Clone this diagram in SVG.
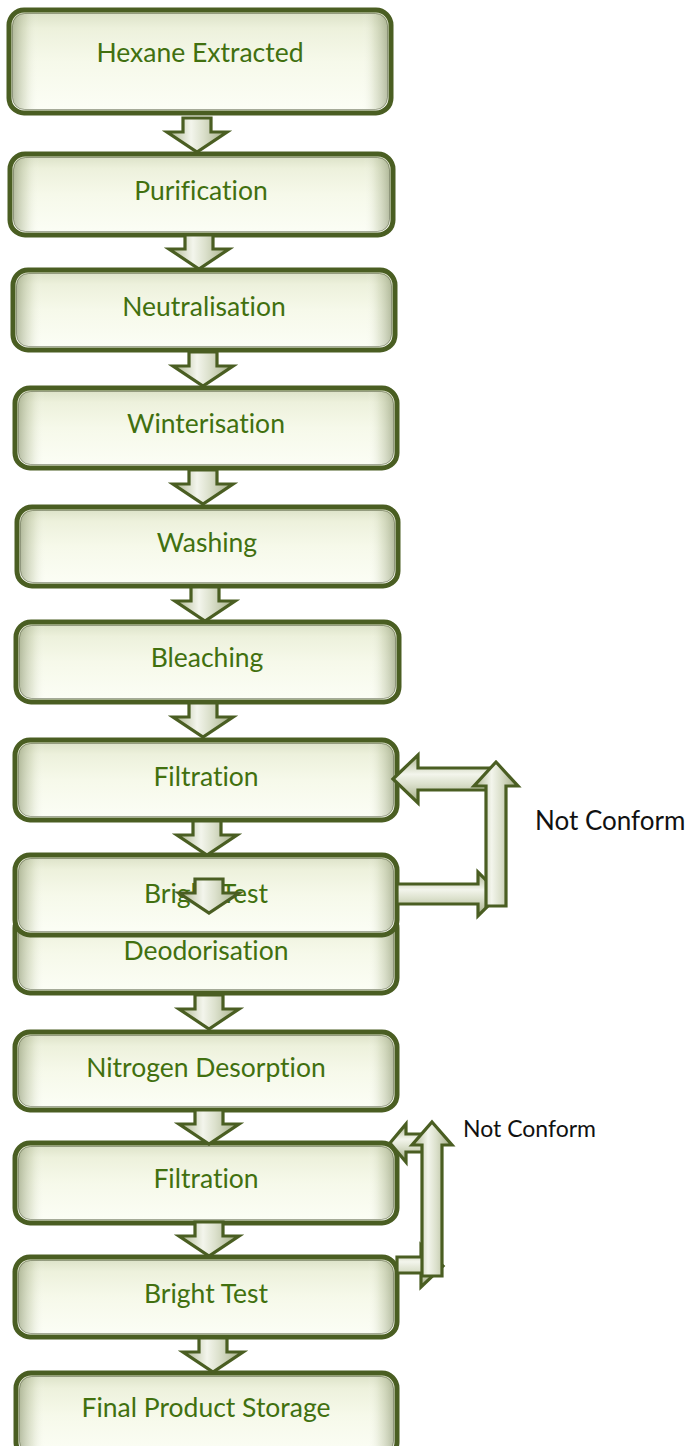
<svg xmlns="http://www.w3.org/2000/svg" width="693" height="1446" viewBox="0 0 693 1446">
<defs>
<linearGradient id="boxV" x1="0" y1="0" x2="0" y2="1">
<stop offset="0" stop-color="#d9dfc4"/>
<stop offset="0.18" stop-color="#edf1dc"/>
<stop offset="0.5" stop-color="#f6f9ea"/>
<stop offset="1" stop-color="#fcfef6"/>
</linearGradient>
<linearGradient id="boxH" x1="0" y1="0" x2="1" y2="0">
<stop offset="0" stop-color="#7f8a62" stop-opacity="0.55"/>
<stop offset="0.035" stop-color="#a9b38c" stop-opacity="0.25"/>
<stop offset="0.07" stop-color="#ffffff" stop-opacity="0"/>
<stop offset="0.93" stop-color="#ffffff" stop-opacity="0"/>
<stop offset="0.965" stop-color="#a9b38c" stop-opacity="0.25"/>
<stop offset="1" stop-color="#7f8a62" stop-opacity="0.55"/>
</linearGradient>
<linearGradient id="arrH" x1="0" y1="0" x2="1" y2="0">
<stop offset="0" stop-color="#aab38c"/>
<stop offset="0.4" stop-color="#f3f5ec"/>
<stop offset="0.6" stop-color="#dce1cd"/>
<stop offset="1" stop-color="#a2ab84"/>
</linearGradient>
<linearGradient id="arrV" x1="0" y1="0" x2="0" y2="1">
<stop offset="0" stop-color="#aab38c"/>
<stop offset="0.4" stop-color="#f3f5ec"/>
<stop offset="0.6" stop-color="#dce1cd"/>
<stop offset="1" stop-color="#a2ab84"/>
</linearGradient>
<path id="dn" d="M-14,0 H14 V14 H30 L0,34 L-30,14 H-14 Z"/>
</defs>
<style>
.box{fill:url(#boxV);stroke:#4a5e22;stroke-width:5}
.bev{fill:url(#boxH);stroke:#26300e;stroke-opacity:0.4;stroke-width:1}
.lbl{font-family:Lato,"Open Sans",sans-serif;font-size:26.5px;fill:#41700f;text-anchor:middle;font-variant-ligatures:none;font-feature-settings:"liga" 0,"clig" 0}
.note{font-family:Lato,"Open Sans",sans-serif;fill:#111111;font-variant-ligatures:none}
.arr{stroke:#4a5e22;stroke-width:3.2;stroke-linejoin:miter}
.ad{fill:url(#arrH)}
.ah{fill:url(#arrV)}
</style>
<rect width="693" height="1446" fill="#ffffff"/>
<g id="n1"><rect class="box" x="9" y="10" width="382" height="103" rx="15"/><rect class="bev" x="12.5" y="13.5" width="375" height="96" rx="12"/><text class="lbl" x="200" y="62">Hexane Extracted</text></g>
<g id="n2"><rect class="box" x="10" y="154" width="383" height="81" rx="15"/><rect class="bev" x="13.5" y="157.5" width="376" height="74" rx="12"/><text class="lbl" x="201" y="200">Purification</text></g>
<g id="n3"><rect class="box" x="13" y="270" width="382" height="80" rx="15"/><rect class="bev" x="16.5" y="273.5" width="375" height="73" rx="12"/><text class="lbl" x="204" y="316">Neutralisation</text></g>
<g id="n4"><rect class="box" x="15" y="388" width="382" height="80" rx="15"/><rect class="bev" x="18.5" y="391.5" width="375" height="73" rx="12"/><text class="lbl" x="206" y="433">Winterisation</text></g>
<g id="n5"><rect class="box" x="17" y="507" width="381" height="79" rx="15"/><rect class="bev" x="20.5" y="510.5" width="374" height="72" rx="12"/><text class="lbl" x="207" y="552">Washing</text></g>
<g id="n6"><rect class="box" x="16" y="622" width="383" height="80" rx="15"/><rect class="bev" x="19.5" y="625.5" width="376" height="73" rx="12"/><text class="lbl" x="207" y="667">Bleaching</text></g>
<g id="n7"><rect class="box" x="15" y="740" width="382" height="80" rx="15"/><rect class="bev" x="18.5" y="743.5" width="375" height="73" rx="12"/><text class="lbl" x="206" y="786">Filtration</text></g>
<g id="n9"><rect class="box" x="15" y="913" width="382" height="80" rx="15"/><rect class="bev" x="18.5" y="916.5" width="375" height="73" rx="12"/><text class="lbl" x="206" y="960">Deodorisation</text></g>
<g id="n8"><rect class="box" x="15" y="855" width="382" height="80" rx="15"/><rect class="bev" x="18.5" y="858.5" width="375" height="73" rx="12"/><text class="lbl" x="206" y="903">Bright Test</text></g>
<g id="n10"><rect class="box" x="15" y="1032" width="382" height="78" rx="15"/><rect class="bev" x="18.5" y="1035.5" width="375" height="71" rx="12"/><text class="lbl" x="206" y="1077">Nitrogen Desorption</text></g>
<g id="n11"><rect class="box" x="15" y="1143" width="382" height="80" rx="15"/><rect class="bev" x="18.5" y="1146.5" width="375" height="73" rx="12"/><text class="lbl" x="206" y="1188">Filtration</text></g>
<g id="n12"><rect class="box" x="15" y="1257" width="382" height="80" rx="15"/><rect class="bev" x="18.5" y="1260.5" width="375" height="73" rx="12"/><text class="lbl" x="206" y="1303">Bright Test</text></g>
<g id="n13"><rect class="box" x="16" y="1373" width="381" height="84" rx="15"/><rect class="bev" x="19.5" y="1376.5" width="374" height="77" rx="12"/><text class="lbl" x="206" y="1417">Final Product Storage</text></g>
<g id="connectors">
<use href="#dn" class="arr ad" x="197" y="118"/>
<use href="#dn" class="arr ad" x="199" y="235"/>
<use href="#dn" class="arr ad" x="203" y="352"/>
<use href="#dn" class="arr ad" x="203" y="470"/>
<use href="#dn" class="arr ad" x="205" y="587"/>
<use href="#dn" class="arr ad" x="203" y="703"/>
<use href="#dn" class="arr ad" x="207" y="821"/>
<use href="#dn" class="arr ad" x="209" y="879"/>
<use href="#dn" class="arr ad" x="209" y="995"/>
<use href="#dn" class="arr ad" x="209" y="1110"/>
<use href="#dn" class="arr ad" x="209" y="1222"/>
<use href="#dn" class="arr ad" x="213" y="1338"/>
<path class="arr ah" d="M397,884 H478 V872 L500,894 L478,916 V904 H397 Z"/>
<path class="arr ah" d="M393,779 L418,755 V768 H496 V790 H418 V803 Z"/>
<path class="arr ad" d="M496,762 L518,786 H506 V906 H486 V786 H474 Z"/>
<path class="arr ah" d="M397,1257 H421 V1245 L443,1266 L421,1287 V1273 H397 Z"/>
<path class="arr ah" d="M390,1143 L406,1124 V1134 H432 V1152 H406 V1162 Z"/>
<path class="arr ad" d="M432,1122 L452,1145 H442 V1276 H422 V1145 H412 Z"/>
</g>
<text class="note" x="535" y="830" font-size="26">Not Conform</text>
<text class="note" x="463" y="1137" font-size="23">Not Conform</text>
</svg>
